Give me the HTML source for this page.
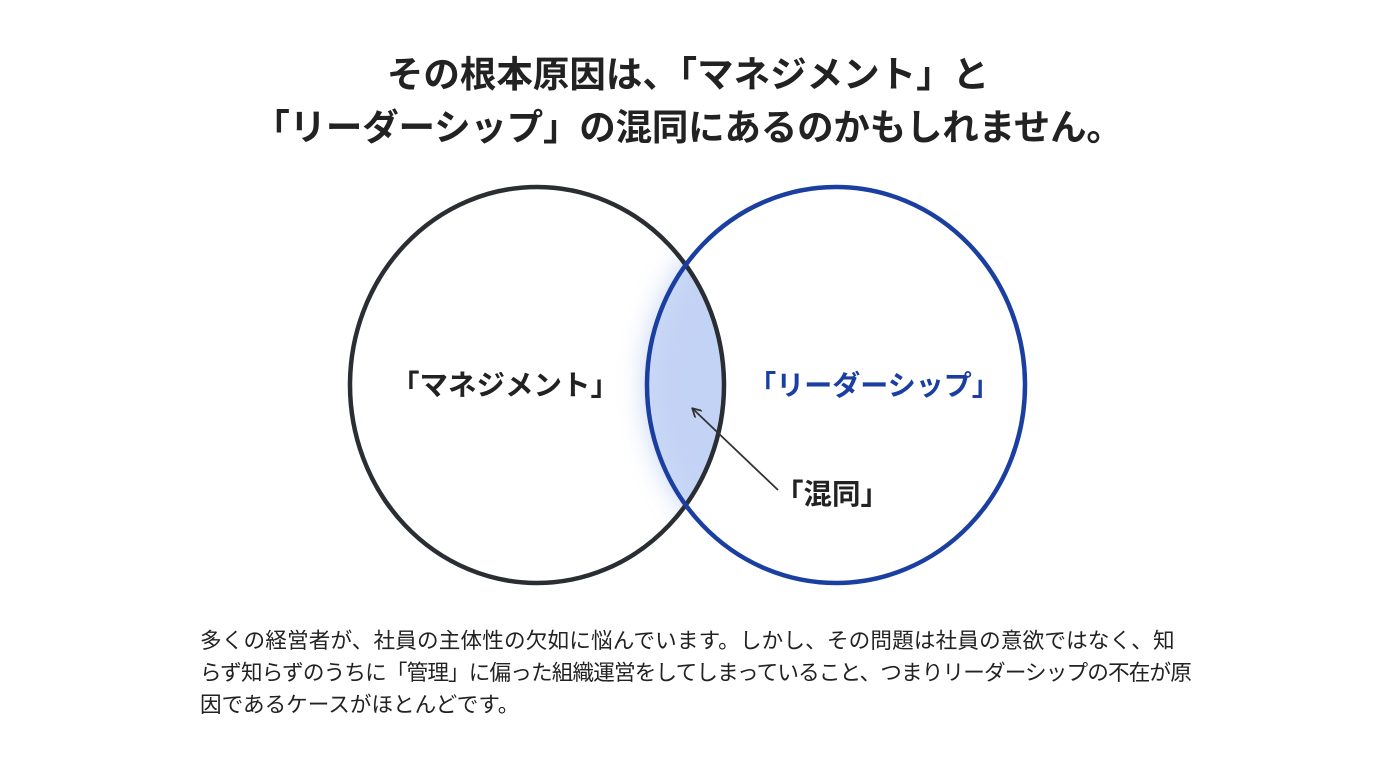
<!DOCTYPE html>
<html><head><meta charset="utf-8">
<style>
body{margin:0;width:1376px;height:768px;background:#fff;overflow:hidden;position:relative;font-family:"Liberation Sans","Noto Sans CJK JP",sans-serif;color:#222;}
.t{position:absolute;left:0;width:1376px;text-align:center;font-weight:bold;font-size:36.5px;line-height:40px;color:#222;}
.b{position:absolute;left:200px;font-size:21.6px;line-height:32px;color:#222;white-space:nowrap;}
</style></head><body>
<div class="t" style="top:55px">その根本原因は、「マネジメント」と</div>
<div class="t" style="top:108px;letter-spacing:-0.2px">「リーダーシップ」の混同にあるのかもしれません。</div>
<svg width="1376" height="768" style="position:absolute;left:0;top:0">
<defs>
<clipPath id="cl"><ellipse cx="537" cy="385" rx="187" ry="198"/></clipPath>
<filter id="bl" x="-50%" y="-50%" width="200%" height="200%"><feGaussianBlur stdDeviation="14"/></filter>
<marker id="ar" markerWidth="10" markerHeight="10" refX="8" refY="5" orient="auto" markerUnits="userSpaceOnUse"><path d="M0,0 L9,5 L0,10" fill="none" stroke="#333" stroke-width="1.8"/></marker>
</defs>
<g clip-path="url(#cl)"><ellipse cx="836" cy="385" rx="189" ry="198" fill="#9fb6ee" opacity="0.7" filter="url(#bl)"/></g>
<g clip-path="url(#cl)"><ellipse cx="836" cy="385" rx="189" ry="198" fill="#c6d4f5" opacity="0.8"/></g>
<ellipse cx="537" cy="385" rx="187" ry="198" fill="none" stroke="#2a2e33" stroke-width="4.5"/>
<ellipse cx="836" cy="385" rx="189" ry="198" fill="none" stroke="#1a3fa0" stroke-width="4.5"/>
<line x1="778" y1="490" x2="693" y2="409" stroke="#333" stroke-width="1.8" marker-end="url(#ar)"/>
<text x="505" y="395" text-anchor="middle" font-size="28.5" font-weight="bold" fill="#222" font-family="Liberation Sans,Noto Sans CJK JP,sans-serif">「マネジメント」</text>
<text x="874" y="395" text-anchor="middle" font-size="28" font-weight="bold" fill="#1a3fa0" font-family="Liberation Sans,Noto Sans CJK JP,sans-serif">「リーダーシップ」</text>
<text x="832" y="504" text-anchor="middle" font-size="28.5" font-weight="bold" fill="#222" font-family="Liberation Sans,Noto Sans CJK JP,sans-serif">「混同」</text>
</svg>
<div class="b" style="top:625px;letter-spacing:0.15px">多くの経営者が、社員の主体性の欠如に悩んでいます。しかし、その問題は社員の意欲ではなく、知</div>
<div class="b" style="top:657px;letter-spacing:-0.85px">らず知らずのうちに「管理」に偏った組織運営をしてしまっていること、つまりリーダーシップの不在が原</div>
<div class="b" style="top:689px">因であるケースがほとんどです。</div>
</body></html>
